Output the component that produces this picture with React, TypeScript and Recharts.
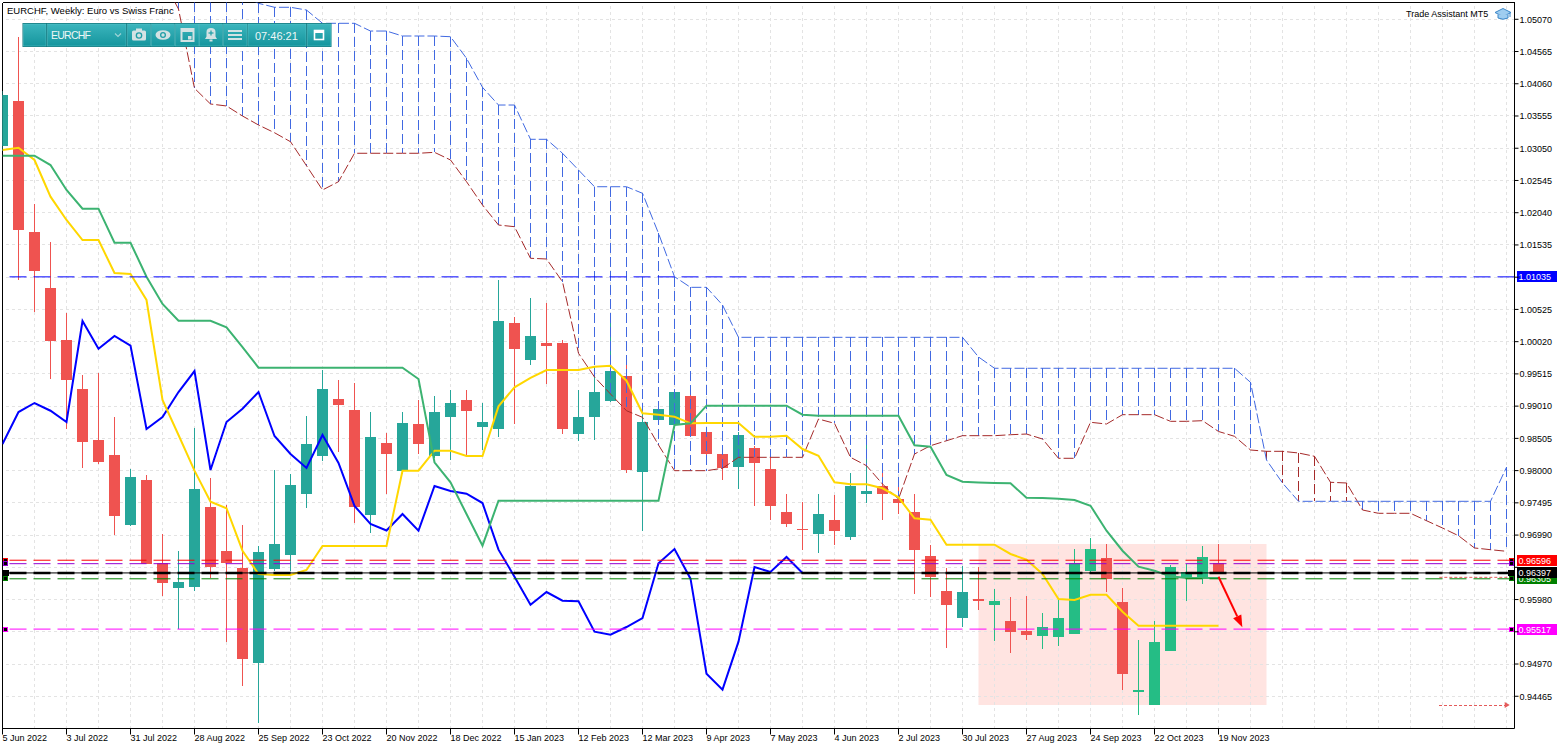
import React from "react";
import { Bar, ComposedChart, Line, ReferenceArea, ReferenceLine, XAxis, YAxis } from "recharts";

const WIDTH = 1567;
const HEIGHT = 749;
const FONT = '"Liberation Sans", Arial, sans-serif';

// weekly EURCHF candles, week of 5 Jun 2022 .. week of 19 Nov 2023
const OPEN = [
  1.0309, 1.0379, 1.01738, 1.0086, 1.00046, 0.99278, 0.98479, 0.98244, 0.97148, 0.97853,
  0.96548, 0.96166, 0.96181, 0.9743, 0.96741, 0.96474, 0.94991, 0.96459, 0.96683, 0.97638,
  0.98233, 0.99122, 0.98949, 0.97309, 0.98428, 0.97989, 0.9873, 0.98233, 0.98844, 0.99106,
  0.98688, 0.98652, 1.00312, 0.99737, 0.99999, 0.99999, 0.98573, 0.98844, 0.99086, 0.99477,
  0.97983, 0.98797, 0.98714, 0.99169, 0.98605, 0.9826, 0.98056, 0.98354, 0.98025, 0.97352,
  0.97085, 0.97007, 0.97226, 0.96965, 0.97638, 0.97759, 0.97555, 0.97352, 0.96662, 0.96114,
  0.95696, 0.95984, 0.95899, 0.95644, 0.95487, 0.95414, 0.95398, 0.95445, 0.96427, 0.96631,
  0.95942, 0.94537, 0.94333, 0.95179, 0.96319, 0.96318, 0.96553,
];
const HIGH = [
  1.0395, 1.04797, 1.02176, 1.01581, 1.00464, 0.99498, 0.99529, 0.9884, 0.98025, 0.97931,
  0.97007, 0.96741, 0.98667, 0.97884, 0.97461, 0.97148, 0.96814, 0.98009, 0.97947, 0.98855,
  0.99576, 0.99419, 0.99372, 0.98918, 0.98589, 0.98918, 0.99106, 0.99169, 0.99263, 0.99263,
  0.99059, 1.00986, 1.00406, 1.00704, 1.00626, 1.00046, 0.99263, 0.99623, 1.00312, 0.99654,
  0.98918, 0.99043, 0.99278, 0.99231, 0.98636, 0.98401, 0.98605, 0.98385, 0.98213, 0.97633,
  0.97508, 0.97633, 0.97618, 0.97963, 0.98432, 0.98103, 0.97853, 0.97633, 0.96835, 0.96474,
  0.96505, 0.9649, 0.96145, 0.96025, 0.9604, 0.95774, 0.95978, 0.96772, 0.96949, 0.9685,
  0.96166, 0.95351, 0.95649, 0.96521, 0.96537, 0.96819, 0.9685,
];
const LOW = [
  1.03, 1.00986, 1.00489, 0.9944, 0.98652, 0.98041, 0.98103, 0.96991, 0.97132, 0.9653,
  0.96036, 0.95514, 0.96119, 0.96318, 0.9532, 0.94631, 0.94051, 0.96432, 0.96432, 0.97419,
  0.98155, 0.98296, 0.97184, 0.97027, 0.97633, 0.97947, 0.9826, 0.98198, 0.98166, 0.98244,
  0.98323, 0.98531, 0.9873, 0.99654, 0.99357, 0.98573, 0.98468, 0.98484, 0.99075, 0.97957,
  0.97058, 0.98793, 0.98667, 0.98526, 0.98229, 0.97853, 0.97712, 0.9745, 0.97231, 0.97117,
  0.96761, 0.96709, 0.96835, 0.96918, 0.97497, 0.97231, 0.9732, 0.96072, 0.96025, 0.95226,
  0.95555, 0.95821, 0.95335, 0.95148, 0.95351, 0.9521, 0.95257, 0.9544, 0.96411, 0.96103,
  0.94568, 0.94176, 0.94328, 0.95174, 0.95962, 0.96224, 0.9638,
];
const CLOSE = [
  1.03884, 1.01774, 1.01131, 1.00035, 0.99424, 0.98453, 0.98135, 0.97294, 0.979, 0.96542,
  0.96239, 0.96255, 0.97712, 0.96495, 0.96553, 0.95049, 0.96725, 0.9685, 0.97775, 0.98417,
  0.99278, 0.99032, 0.97435, 0.98526, 0.98265, 0.98746, 0.98417, 0.98918, 0.99059, 0.98938,
  0.98761, 1.00344, 0.9991, 1.00109, 0.99957, 0.98652, 0.9884, 0.99231, 0.9956, 0.98009,
  0.98761, 0.9897, 0.99231, 0.98542, 0.9826, 0.98041, 0.98558, 0.98119, 0.97446, 0.97164,
  0.97062, 0.9732, 0.97059, 0.97759, 0.97681, 0.97638, 0.97492, 0.96761, 0.96338, 0.95899,
  0.96098, 0.95962, 0.95953, 0.95476, 0.95429, 0.9555, 0.95691, 0.96548, 0.96772, 0.96307,
  0.94818, 0.94568, 0.9532, 0.9649, 0.96412, 0.96647, 0.96397,
];

// Ichimoku lines as drawn
const TENKAN = [
  1.03022, 1.03058, 1.02866, 1.02291, 1.01926, 1.01612, 1.01612, 1.01096, 1.0108, 1.00673,
  0.99106, 0.98558, 0.97999, 0.97513, 0.9741, 0.96745, 0.9638, 0.96365, 0.96365, 0.96443,
  0.96819, 0.96819, 0.96819, 0.96819, 0.96819, 0.97999, 0.97999, 0.98312, 0.98312, 0.98229,
  0.98229, 0.99007, 0.99305, 0.99451, 0.99576, 0.99576, 0.99576, 0.99628, 0.99643, 0.99408,
  0.98898, 0.98876, 0.98844, 0.98741, 0.98746, 0.98746, 0.98746, 0.98531, 0.98531, 0.98547,
  0.98338, 0.98233, 0.97817, 0.97785, 0.97785, 0.97723, 0.97582, 0.97253, 0.97231, 0.96839,
  0.96839, 0.96839, 0.96839, 0.96694, 0.96604, 0.9638, 0.95989, 0.95973, 0.96056, 0.96056,
  0.9579, 0.9557, 0.9557, 0.9557, 0.9557, 0.9557, 0.9557,
];
const KIJUN = [
  1.02933, 1.02933, 1.02933, 1.02787, 1.02396, 1.02103, 1.02103, 1.0157, 1.0157, 1.01038,
  1.0061, 1.00348, 1.00348, 1.00348, 1.00245, 0.99936, 0.99612, 0.99612, 0.99612, 0.99612,
  0.99612, 0.99612, 0.99612, 0.99612, 0.99612, 0.99612, 0.99435, 0.9813, 0.97817, 0.9732,
  0.96824, 0.97529, 0.97529, 0.97529, 0.97529, 0.97529, 0.97529, 0.97529, 0.97529, 0.97529,
  0.97529, 0.97529, 0.98714, 0.98741, 0.99017, 0.99017, 0.99017, 0.99017, 0.99017, 0.99017,
  0.98876, 0.9886, 0.9886, 0.9886, 0.9886, 0.9886, 0.9886, 0.98396, 0.98375, 0.97931,
  0.97826, 0.97814, 0.97806, 0.97801, 0.97576, 0.97571, 0.9756, 0.9754, 0.9745, 0.97059,
  0.96745, 0.96495, 0.96432, 0.96344, 0.96318, 0.96318, 0.96318,
];
const SPAN_A = [
  null, null, null, null, null, null, null, null, null, null,
  null, null, null, null, null, 1.0545, 1.0532, 1.05258, 1.05258, 1.05215,
  1.05007, 1.05007, 1.05007, 1.04886, 1.04886, 1.04808, 1.04808, 1.04808, 1.04797, 1.04459,
  1.04004, 1.03727, 1.03727, 1.0319, 1.0319, 1.02971, 1.02709, 1.02447, 1.02447, 1.02447,
  1.02344, 1.01717, 1.01038, 1.00871, 1.00871, 1.00594, 1.00088, 1.00088, 1.00088, 1.00088,
  1.00088, 1.00088, 1.00088, 1.00088, 1.00088, 1.00088, 1.00088, 1.00088, 1.00088, 1.00088,
  1.00088, 0.9978, 0.99603, 0.99603, 0.99603, 0.99603, 0.99603, 0.99603, 0.99603, 0.99603,
  0.99603, 0.99603, 0.99603, 0.99603, 0.99603, 0.99603, 0.99603, 0.99603, 0.99383, 0.98166,
  0.97806, 0.97519, 0.97519, 0.97519, 0.97519, 0.97519, 0.97519, 0.97519, 0.97519, 0.97519,
  0.97519, 0.97519, 0.97519, 0.97519, 0.98052,
];
const SPAN_B = [
  null, null, null, null, null, null, null, null, null, null,
  1.057, 1.05231, 1.03989, 1.03743, 1.03712, 1.03555, 1.03414, 1.03293, 1.03152, 1.02776,
  1.02396, 1.02526, 1.02971, 1.02971, 1.02971, 1.02971, 1.02971, 1.02986, 1.02866, 1.02526,
  1.02161, 1.01847, 1.01821, 1.01326, 1.01315, 1.00959, 0.99838, 0.99466, 0.992, 0.98938,
  0.98835, 0.98401, 0.97999, 0.97999, 0.97999, 0.98036, 0.98208, 0.98208, 0.98208, 0.98208,
  0.98208, 0.98808, 0.98741, 0.98208, 0.98077, 0.9779, 0.97555, 0.9826, 0.9839, 0.98468,
  0.98547, 0.98547, 0.98547, 0.98562, 0.98573, 0.98495, 0.98193, 0.98193, 0.98757, 0.9873,
  0.98876, 0.98876, 0.98876, 0.98772, 0.98772, 0.98782, 0.98613, 0.98537, 0.98323, 0.98302,
  0.98302, 0.98276, 0.98224, 0.97817, 0.97806, 0.97383, 0.97331, 0.97331, 0.97331, 0.97215,
  0.97101, 0.9698, 0.96788, 0.96761, 0.96736,
];
const CHIKOU_SHIFT = 26;
const CLOUD_CEIL = 1.06;

const DATE_TICKS = [0, 4, 8, 12, 16, 20, 24, 28, 32, 36, 40, 44, 48, 52, 56, 60, 64, 68, 72, 76];
const DATE_LABELS = [
  "5 Jun 2022", "3 Jul 2022", "31 Jul 2022", "28 Aug 2022", "25 Sep 2022", "23 Oct 2022",
  "20 Nov 2022", "18 Dec 2022", "15 Jan 2023", "12 Feb 2023", "12 Mar 2023", "9 Apr 2023",
  "7 May 2023", "4 Jun 2023", "2 Jul 2023", "30 Jul 2023", "27 Aug 2023", "24 Sep 2023",
  "22 Oct 2023", "19 Nov 2023",
];
const PRICE_TICKS = [
  1.0507, 1.04565, 1.0406, 1.03555, 1.0305, 1.02545, 1.0204, 1.01535, 1.0103, 1.00525, 1.0002,
  0.99515, 0.9901, 0.98505, 0.98, 0.97495, 0.9699, 0.96485, 0.9598, 0.95475, 0.9497, 0.94465,
];
const COVERED_PRICE_TICKS = [1.0103, 0.96485, 0.95475];

// horizontal levels on the chart
const LEVEL_PRICES = [1.01035, 0.96596, 0.96542, 0.96305, 0.96397, 0.95517];
const LEVEL_TAGS = ["1.01035", "0.96596", null, "0.96305", "0.96397", "0.95517"];
const LEVEL_COLORS = ["#0000ff", "#ff0000", "#9400d3", "#008000", "#000000", "#ff00ff"];
const LEVEL_MARKS = [false, true, true, true, true, true];

// shaded range box and the projected move
const BOX_WEEKS = [61, 79];
const BOX_PRICES = [0.94328, 0.9685];
const ARROW_WEEKS = [76, 77.49];
const ARROW_PRICES = [0.96338, 0.95546];
const TA_WEEKS = [89.8, 94.2];
const TA_PRICES = [0.96328, 0.94328];

const X_MAX = 94.5;
const Y_MIN = 0.9396;
const Y_MAX = 1.05333;
const LAST_WEEK = 94;

const rows = Array.from({ length: LAST_WEEK + 1 }, (_, i) => ({
  i,
  open: OPEN[i] ?? null,
  high: HIGH[i] ?? null,
  low: LOW[i] ?? null,
  close: CLOSE[i] ?? null,
  tenkan: TENKAN[i] ?? null,
  kijun: KIJUN[i] ?? null,
  chikou: CLOSE[i + CHIKOU_SHIFT] ?? null,
  spanA: SPAN_A[i] ?? null,
  spanB: SPAN_B[i] ?? null,
}));

const gridWeeks = Array.from({ length: 47 }, (_, k) => 2 + 2 * k);

function Candle(props: any) {
  const { x, y, width, height, payload } = props;
  if (!payload || payload.open == null) return <g />;
  const { open, high, low, close, i } = payload;
  const top = Math.min(y, y + height);
  const h = Math.abs(height);
  const span = high - low;
  const toY = (v: number) => (span > 0 ? top + ((high - v) / span) * h : top);
  const cx = x + width / 2;
  const up = close >= open;
  const color = up ? (i >= BOX_WEEKS[0] ? "#25bd85" : "#26a69a") : "#ef5350";
  const bTop = toY(Math.max(open, close));
  const bBot = toY(Math.min(open, close));
  return (
    <g shapeRendering="crispEdges">
      <line x1={cx} x2={cx} y1={top} y2={top + h} stroke={color} strokeWidth={1} />
      <rect x={x} y={bTop} width={width} height={Math.max(1, bBot - bTop)} fill={color} />
    </g>
  );
}

function Hatch(props: any) {
  const { x, y, width, height, payload } = props;
  if (!payload || payload.spanB == null) return <g />;
  const a = payload.spanA;
  const color = a == null || a >= payload.spanB ? "#4169e1" : "#a52a2a";
  const cx = x + width / 2;
  return (
    <line
      x1={cx}
      x2={cx}
      y1={Math.min(y, y + height)}
      y2={Math.max(y, y + height)}
      stroke={color}
      strokeWidth={1}
      strokeDasharray="10 4"
      shapeRendering="crispEdges"
    />
  );
}

function PriceTick({ x, y, payload }: any) {
  if (COVERED_PRICE_TICKS.some((v) => Math.abs(v - payload.value) < 1e-7)) return <g />;
  return (
    <text x={x} y={y + 3.3} fontSize={9} fontFamily={FONT} fill="#000">
      {payload.value.toFixed(5)}
    </text>
  );
}

function DateTick({ x, y, payload }: any) {
  const k = DATE_TICKS.indexOf(payload.value);
  return (
    <text x={x} y={y + 4.5} fontSize={9} fontFamily={FONT} fill="#000">
      {DATE_LABELS[k]}
    </text>
  );
}

function levelLabel(k: number) {
  return (p: any) => {
    const vb = p.viewBox || {};
    const { x, y, width } = vb;
    const right = x + width;
    const color = LEVEL_COLORS[k];
    const tag = LEVEL_TAGS[k];
    const big = color === "#000000";
    const s = big ? 5 : 4;
    return (
      <g shapeRendering="crispEdges">
        {LEVEL_MARKS[k] && (
          <>
            <rect x={right - s - 1} y={y - s / 2} width={s} height={s} fill="#000" stroke={color} />
            <rect x={x + 1} y={y - s / 2} width={s} height={s} fill="#000" stroke={color} />
          </>
        )}
        {tag && (
          <>
            <rect x={right + 2} y={y - 5.5} width={40} height={11} fill={color} />
            <text x={right + 4} y={y + 3.5} fontSize={9} fontFamily={FONT} fill="#fff">
              {tag}
            </text>
          </>
        )}
      </g>
    );
  };
}

function arrowHead(x1: number, y1: number, x2: number, y2: number, len: number, half: number) {
  const ang = Math.atan2(y2 - y1, x2 - x1);
  const c = Math.cos(ang);
  const s = Math.sin(ang);
  const bx = x2 - len * c;
  const by = y2 - len * s;
  return {
    bx,
    by,
    points: `${x2},${y2} ${bx - half * s},${by + half * c} ${bx + half * s},${by - half * c}`,
  };
}

function MoveArrow(props: any) {
  const { x1, y1, x2, y2 } = props;
  const head = arrowHead(x1, y1, x2, y2, 12, 4.5);
  return (
    <g>
      <line x1={x1} y1={y1} x2={head.bx} y2={head.by} stroke="#ff0000" strokeWidth={2} />
      <polygon points={head.points} fill="#ff0000" />
    </g>
  );
}

function DottedArrow(props: any) {
  const { x1, y1, x2, y2 } = props;
  const head = arrowHead(x1, y1, x2, y2, 5, 3);
  return (
    <g>
      <line x1={x1} y1={y1} x2={head.bx} y2={head.by} stroke="#e45a5a" strokeWidth={1} strokeDasharray="3 2" shapeRendering="crispEdges" />
      <polygon points={head.points} fill="#e45a5a" />
    </g>
  );
}

function Toolbar() {
  const segs = [
    [23.5, 22.5], [47.5, 78.5], [127.5, 23], [151.5, 23], [175.5, 23.5],
    [199.5, 23], [223.5, 23.5], [248, 58], [307.5, 23.5],
  ];
  const ink = "#d3e2e3";
  const cy = 35;
  return (
    <g>
      <defs>
        <linearGradient id="tbFill" x1="0" y1="0" x2="0" y2="1">
          <stop offset="0%" stopColor="#3bb5bd" />
          <stop offset="100%" stopColor="#15959d" />
        </linearGradient>
      </defs>
      <rect x={22.5} y={23} width={309} height={24} fill="#0c737a" />
      {segs.map(([sx, sw], k) => (
        <rect key={k} x={sx} y={24} width={sw} height={22} fill="url(#tbFill)" stroke="#5fc6cc" strokeWidth={0.5} />
      ))}
      <text x={51} y={39} fontSize={10.5} fontFamily={FONT} fill="#eef7f7" textLength={40}>
        EURCHF
      </text>
      <polyline points="115,33.5 118,36.5 121,33.5" fill="none" stroke="#9fd3d6" strokeWidth={1.2} />
      {/* camera */}
      <rect x={132} y={cy - 4.5} width={14} height={10} rx={1.5} fill={ink} />
      <rect x={136} y={cy - 6.5} width={6} height={3} fill={ink} />
      <circle cx={139} cy={cy + 0.5} r={3.3} fill="#1f9ea6" />
      <circle cx={139} cy={cy + 0.5} r={2} fill={ink} />
      {/* eye */}
      <ellipse cx={163} cy={cy} rx={7.5} ry={4.8} fill={ink} />
      <circle cx={163} cy={cy} r={3} fill="#1f9ea6" />
      <circle cx={163} cy={cy} r={1.7} fill={ink} />
      {/* calendar */}
      <rect x={181.5} y={cy - 6} width={12} height={12} fill="none" stroke={ink} strokeWidth={2} />
      <rect x={181.5} y={cy - 6} width={12} height={3} fill={ink} />
      <rect x={188} y={cy + 1} width={3.5} height={3.5} fill={ink} />
      {/* bell */}
      <path
        d={`M205,${cy + 4} L217,${cy + 4} L215.5,${cy + 1.5} L215.5,${cy - 3} Q215.5,${cy - 7} 211,${cy - 7} Q206.5,${cy - 7} 206.5,${cy - 3} L206.5,${cy + 1.5} Z`}
        fill={ink}
      />
      <rect x={209.5} y={cy + 4.5} width={3} height={2} fill={ink} />
      <rect x={208.5} y={cy - 2.6} width={5} height={1.2} fill="#1f9ea6" />
      <rect x={210.4} y={cy - 4.5} width={1.2} height={5} fill="#1f9ea6" />
      {/* menu */}
      <rect x={228} y={cy - 5} width={14} height={2} fill={ink} />
      <rect x={228} y={cy - 1} width={14} height={2} fill={ink} />
      <rect x={228} y={cy + 3} width={14} height={2} fill={ink} />
      <text x={255} y={39.5} fontSize={11} fontFamily={FONT} fill="#eef7f7">
        07:46:21
      </text>
      {/* restore */}
      <rect x={314.5} y={cy - 4.5} width={9} height={9} fill="none" stroke="#ffffff" strokeWidth={1.6} />
      <rect x={314.5} y={cy - 4.5} width={9} height={2.5} fill="#ffffff" />
    </g>
  );
}

function Overlay() {
  return (
    <svg width={WIDTH} height={HEIGHT} style={{ position: "absolute", left: 0, top: 0, pointerEvents: "none" }}>
      <text x={7} y={13.5} fontSize={9.5} fontFamily={FONT} fill="#000">
        EURCHF, Weekly:  Euro vs Swiss Franc
      </text>
      <Toolbar />
      <text x={1406} y={16.5} fontSize={9} fontFamily={FONT} fill="#000">
        Trade Assistant MT5
      </text>
      <g>
        <polygon points="1503,8.5 1511,12.5 1503,16.5 1495,12.5" fill="#9fcdf0" stroke="#3a86c8" strokeWidth={1} />
        <path d="M1498,14.5 L1498,18 Q1503,20.5 1508,18 L1508,14.5" fill="#9fcdf0" stroke="#3a86c8" strokeWidth={1} />
        <line x1={1510} y1={12.5} x2={1510} y2={17} stroke="#3a86c8" strokeWidth={1} />
      </g>
    </svg>
  );
}

export default function App() {
  return (
    <div style={{ position: "relative", width: WIDTH, height: HEIGHT, background: "#fff", fontFamily: FONT }}>
      <style>{"body{margin:0}"}</style>
      <ComposedChart
        width={WIDTH}
        height={HEIGHT}
        data={rows}
        margin={{ top: 2.5, right: 0, bottom: 0, left: 2.5 }}
        style={{ position: "absolute", left: 0, top: 0 }}
      >
        <XAxis
          dataKey="i"
          type="number"
          domain={[0, X_MAX]}
          allowDataOverflow
          ticks={DATE_TICKS}
          interval={0}
          tick={<DateTick />}
          tickSize={6}
          tickMargin={2}
          tickLine={{ stroke: "#000" }}
          axisLine={{ stroke: "#000" }}
          height={20.5}
        />
        <XAxis xAxisId="h" dataKey="i" type="number" domain={[0, X_MAX]} allowDataOverflow hide />
        <YAxis
          orientation="right"
          type="number"
          domain={[Y_MIN, Y_MAX]}
          allowDataOverflow
          ticks={PRICE_TICKS}
          interval={0}
          tick={<PriceTick />}
          tickSize={4}
          tickMargin={1}
          tickLine={{ stroke: "#000" }}
          axisLine={{ stroke: "#000" }}
          width={52.5}
        />

        <ReferenceArea
          x1={BOX_WEEKS[0]}
          x2={BOX_WEEKS[1]}
          y1={BOX_PRICES[0]}
          y2={BOX_PRICES[1]}
          fill="#ffe4e1"
          fillOpacity={1}
          stroke="none"
          zIndex={-200}
        />
        {PRICE_TICKS.map((p) => (
          <ReferenceLine key={`gy${p}`} y={p} stroke="#e3e3e3" strokeDasharray="3 3" zIndex={-150} shapeRendering="crispEdges" />
        ))}
        {gridWeeks.map((w) => (
          <ReferenceLine key={`gx${w}`} x={w} stroke="#e3e3e3" strokeDasharray="3 3" zIndex={-150} shapeRendering="crispEdges" />
        ))}
        <ReferenceLine x={0} stroke="#000" zIndex={-140} shapeRendering="crispEdges" />
        <ReferenceLine y={Y_MAX} stroke="#000" zIndex={-140} shapeRendering="crispEdges" />

        <Bar dataKey={(d: any) => (d.open == null ? null : [d.low, d.high])} barSize={11} shape={<Candle />} isAnimationActive={false} zIndex={300} />
        <Bar
          xAxisId="h"
          dataKey={(d: any) =>
            d.spanB == null
              ? null
              : [Math.min(d.spanA ?? CLOUD_CEIL, d.spanB), Math.max(d.spanA ?? CLOUD_CEIL, d.spanB)]
          }
          barSize={11}
          shape={<Hatch />}
          isAnimationActive={false}
          zIndex={310}
        />
        <Line dataKey="spanB" stroke="#a52a2a" strokeWidth={1} strokeDasharray="10 3" dot={false} activeDot={false} isAnimationActive={false} zIndex={390} />
        <Line dataKey="spanA" stroke="#4169e1" strokeWidth={1} strokeDasharray="10 3" dot={false} activeDot={false} isAnimationActive={false} zIndex={390} />
        <Line dataKey="chikou" stroke="#0000ff" strokeWidth={2} dot={false} activeDot={false} isAnimationActive={false} zIndex={400} />
        <Line dataKey="tenkan" stroke="#ffd700" strokeWidth={2} dot={false} activeDot={false} isAnimationActive={false} zIndex={400} />
        <Line dataKey="kijun" stroke="#3cb371" strokeWidth={2} dot={false} activeDot={false} isAnimationActive={false} zIndex={400} />

        {LEVEL_PRICES.map((p, k) => (
          <ReferenceLine
            key={`lv${k}`}
            y={p}
            stroke={LEVEL_COLORS[k]}
            strokeWidth={LEVEL_COLORS[k] === "#000000" ? 2.5 : 1}
            strokeDasharray="17 7"
            label={levelLabel(k)}
            zIndex={450}
          />
        ))}
        <ReferenceLine y={LEVEL_PRICES[4]} stroke="#000" strokeWidth={1} zIndex={450} />
        <ReferenceLine
          segment={[{ x: TA_WEEKS[0], y: TA_PRICES[0] }, { x: TA_WEEKS[1], y: TA_PRICES[0] }]}
          stroke="#e45a5a"
          strokeDasharray="3 2"
          zIndex={455}
        />
        <ReferenceLine
          segment={[{ x: TA_WEEKS[0], y: TA_PRICES[1] }, { x: TA_WEEKS[1], y: TA_PRICES[1] }]}
          shape={DottedArrow}
          zIndex={455}
        />
        <ReferenceLine
          segment={[{ x: ARROW_WEEKS[0], y: ARROW_PRICES[0] }, { x: ARROW_WEEKS[1], y: ARROW_PRICES[1] }]}
          shape={MoveArrow}
          zIndex={460}
        />
      </ComposedChart>
      <Overlay />
    </div>
  );
}
